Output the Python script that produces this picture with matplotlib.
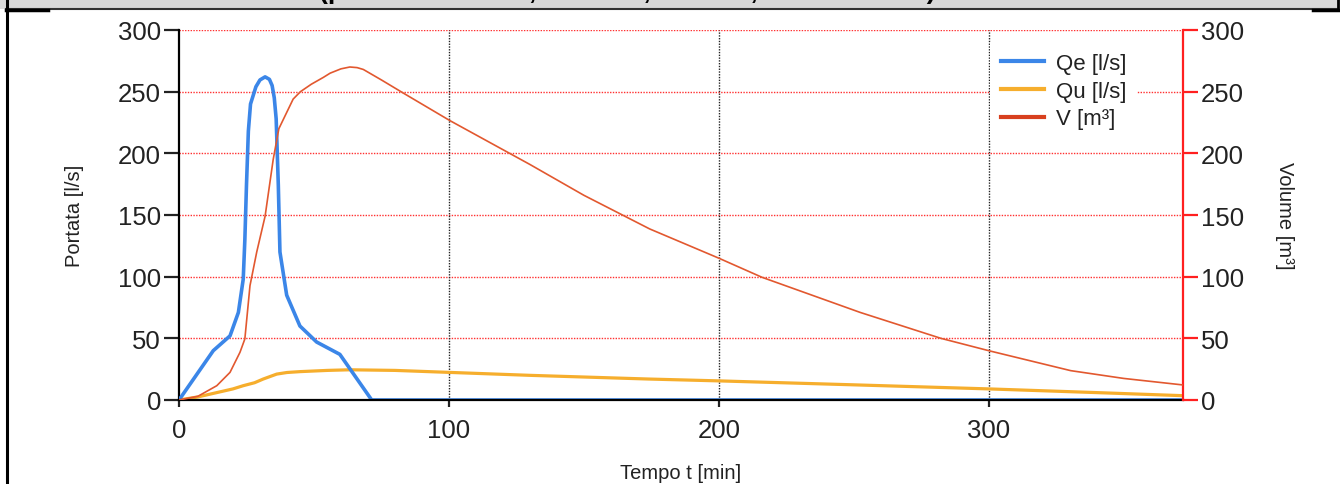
import matplotlib
matplotlib.use("Agg")
import matplotlib.pyplot as plt
from matplotlib.lines import Line2D
from matplotlib.patches import Rectangle

plt.rcParams['font.family'] = ['Liberation Sans', 'DejaVu Sans']

# --- data ---
t_qe = [0, 12.7, 18.9, 22, 23.8, 24.4, 25, 25.7, 26.5, 28.5, 30, 31.9, 33.5, 34.5,
        35.3, 36, 36.8, 37.4, 39.9, 44.8, 51, 59.6, 71.4, 372]
qe = [0, 40, 52, 71, 98, 130, 174, 218, 240, 254, 259.5, 262, 260, 255,
      245, 228, 174, 120, 85, 60, 47, 37, 0, 0]

t_qu = [0, 7, 14, 20, 23.8, 28, 31.2, 36.2, 40, 44.8, 55, 63.3, 80, 100, 130,
        174, 200, 250, 300, 340, 372]
qu = [0, 2.5, 6, 9, 11.6, 14, 17, 21, 22.3, 23, 24, 24.5, 24, 22.4, 20,
      17, 15.5, 12.3, 9, 6, 3.5]

t_v = [0, 7, 14, 18.9, 22.6, 24.4, 26.3, 28.8, 31.9, 34.9, 37, 42.3, 45, 49,
       53.5, 56, 60, 63.3, 66, 68.3, 75, 83, 100.4, 130, 150, 174.4, 200, 216,
       252.4, 282.3, 300, 330.4, 350, 372]
vol = [0, 3, 11.6, 22.4, 38.7, 49.5, 92.7, 120, 149, 195, 220, 244, 250, 256,
       261.6, 265, 268.5, 270, 269.5, 268, 259.5, 249, 226.5, 191, 166, 138.7, 115, 99.5,
       71, 50, 40, 23.8, 17.5, 12.2]

x_ticks = [0, 100, 200, 300]
y_ticks = [0, 50, 100, 150, 200, 250, 300]

c_qe = '#3b86e8'
c_qu = '#f6ae2d'
c_v = '#e2582f'

W, H = 1340, 485
fig = plt.figure(figsize=(W / 100, H / 100), dpi=100)

# header strip with the clipped title (only its lowest part shows)
fig.patches.append(Rectangle((0, 1 - 9.5 / H), 1, 9.5 / H, transform=fig.transFigure,
                             facecolor='#d9d9d9', edgecolor='none', zorder=0))
fig.text(627 / W, 1 + 1 / H, '(portata entrante, uscente, volume, istante finale)',
         ha='center', va='baseline', fontsize=19, fontweight='bold', color='black')
fig.add_artist(Line2D([6 / W, 1338 / W], [1 - 9.5 / H, 1 - 9.5 / H], color='#333333', lw=1.5))
fig.add_artist(Line2D([6 / W, 48 / W], [1 - 10.5 / H, 1 - 10.5 / H], color='black', lw=2.5))
fig.add_artist(Line2D([1313 / W, 1340 / W], [1 - 10.5 / H, 1 - 10.5 / H], color='black', lw=2.5))
fig.add_artist(Line2D([7 / W, 7 / W], [0, 1], color='black', lw=2.2))
fig.add_artist(Line2D([1338 / W, 1338 / W], [1 - 10 / H, 1], color='black', lw=2.0))

left, right, bottom, top = 179, 1183, 401, 31
ax = fig.add_axes([left / W, 1 - bottom / H, (right - left) / W, (bottom - top) / H])
ax2 = ax.twinx()

ax.plot(t_qe, qe, color=c_qe, lw=2.6, zorder=4, solid_capstyle='round')
ax.plot(t_qu, qu, color=c_qu, lw=2.3, zorder=3)
ax2.plot(t_v, vol, color=c_v, lw=1.2, zorder=3)

ax.set_xlim(0, 372)
ax.set_ylim(0, 300)
ax2.set_ylim(0, 300)
ax.set_xticks(x_ticks)
ax.set_yticks(y_ticks)
ax2.set_yticks(y_ticks)

# grid: red dotted horizontal, black dotted vertical
for y in y_ticks[1:]:
    ax.axhline(y, color='#ff3030', lw=1.0, ls=(0, (1, 1)), zorder=1)
for x in x_ticks[1:]:
    ax.axvline(x, color='#222222', lw=1.0, ls=(0, (1, 1)), zorder=1)

for s in ['top', 'right']:
    ax.spines[s].set_visible(False)
for s in ['top', 'left', 'bottom']:
    ax2.spines[s].set_visible(False)
ax.spines['left'].set_linewidth(1.6)
ax.spines['bottom'].set_linewidth(1.6)
ax.spines['bottom'].set_zorder(5)
ax2.spines['right'].set_color('#ff2020')
ax2.spines['right'].set_linewidth(1.6)

ax.tick_params(axis='y', length=11, width=1.6, pad=2, labelsize=18.5, colors='#222222')
ax.tick_params(axis='x', length=5, width=1.6, pad=8, labelsize=18.5, colors='#222222')
ax2.tick_params(axis='y', length=11, width=1.6, pad=2, labelsize=18.5,
                color='#ff2020', labelcolor='#222222')

ax.set_ylabel('Portata [l/s]', fontsize=14.5, color='#222222', labelpad=24)
ax2.set_ylabel('Volume [m³]', fontsize=14.5, color='#222222', rotation=-90,
               labelpad=22, va='bottom')
ax.set_xlabel('Tempo t [min]', fontsize=14.5, color='#222222', labelpad=15)

handles = [Line2D([], [], color=c_qe, lw=3), Line2D([], [], color=c_qu, lw=3),
           Line2D([], [], color='#d8401e', lw=3)]
leg = ax2.legend(handles, ['Qe [l/s]', 'Qu [l/s]', 'V [m³]'], loc='upper left',
                 bbox_to_anchor=(0.797, 0.998), frameon=True, fancybox=False,
                 fontsize=16, handlelength=1.9, handletextpad=0.55, labelspacing=0.3,
                 borderpad=0.5)
leg.get_frame().set_edgecolor('none')
leg.get_frame().set_facecolor('white')
leg.get_frame().set_alpha(1)
for txt in leg.get_texts():
    txt.set_color('#222222')

fig.savefig('out.png', dpi=100)
